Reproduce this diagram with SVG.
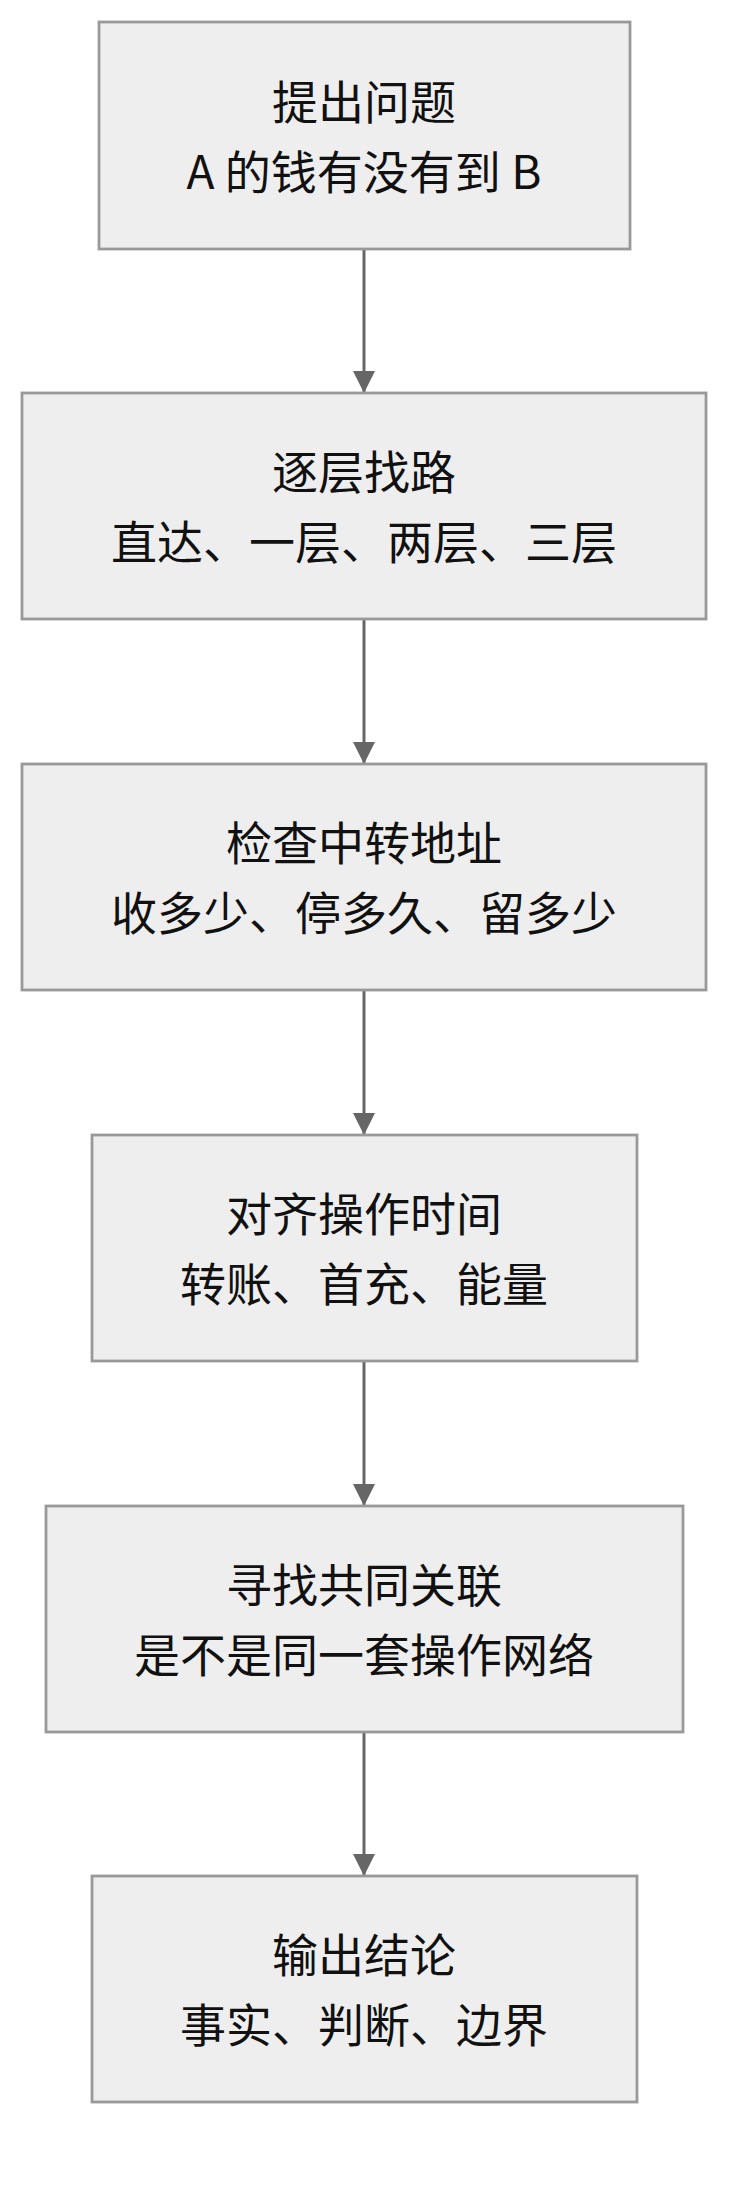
<svg xmlns="http://www.w3.org/2000/svg" width="756" height="2202" viewBox="0 0 756 2202">
<style>
.b{fill:#eeeeee;stroke:#999999;stroke-width:2.8}
.t{font-family:"Noto Sans CJK SC","Noto Sans",sans-serif;font-size:46px;fill:#111;text-anchor:middle;dominant-baseline:central}
.c{stroke:#666666;stroke-width:3;fill:none;marker-end:url(#a)}
</style>
<defs><marker id="a" viewBox="0 0 10 10" refX="10" refY="5" markerWidth="22" markerHeight="24" markerUnits="userSpaceOnUse" orient="auto"><path d="M0,0L10,5L0,10z" fill="#666666"/></marker></defs>
<rect width="756" height="2202" fill="#fff"/>
<g id="connectors">
<line class="c" x1="364" y1="249" x2="364" y2="393"/>
<line class="c" x1="364" y1="619" x2="364" y2="764"/>
<line class="c" x1="364" y1="990" x2="364" y2="1135"/>
<line class="c" x1="364" y1="1361" x2="364" y2="1506"/>
<line class="c" x1="364" y1="1732" x2="364" y2="1876"/>
</g>
<g id="n1"><rect class="b" x="99" y="22" width="531" height="227"/><text class="t" x="364" y="99">提出问题</text><text class="t" x="364" y="169">A 的钱有没有到 B</text></g>
<g id="n2"><rect class="b" x="22" y="393" width="684" height="226"/><text class="t" x="364" y="469">逐层找路</text><text class="t" x="364" y="539">直达、一层、两层、三层</text></g>
<g id="n3"><rect class="b" x="22" y="764" width="684" height="226"/><text class="t" x="364" y="840">检查中转地址</text><text class="t" x="364" y="910">收多少、停多久、留多少</text></g>
<g id="n4"><rect class="b" x="92" y="1135" width="545" height="226"/><text class="t" x="364" y="1211">对齐操作时间</text><text class="t" x="364" y="1281">转账、首充、能量</text></g>
<g id="n5"><rect class="b" x="46" y="1506" width="637" height="226"/><text class="t" x="364" y="1582">寻找共同关联</text><text class="t" x="364" y="1652">是不是同一套操作网络</text></g>
<g id="n6"><rect class="b" x="92" y="1876" width="545" height="226"/><text class="t" x="364" y="1952">输出结论</text><text class="t" x="364" y="2022">事实、判断、边界</text></g>
</svg>
